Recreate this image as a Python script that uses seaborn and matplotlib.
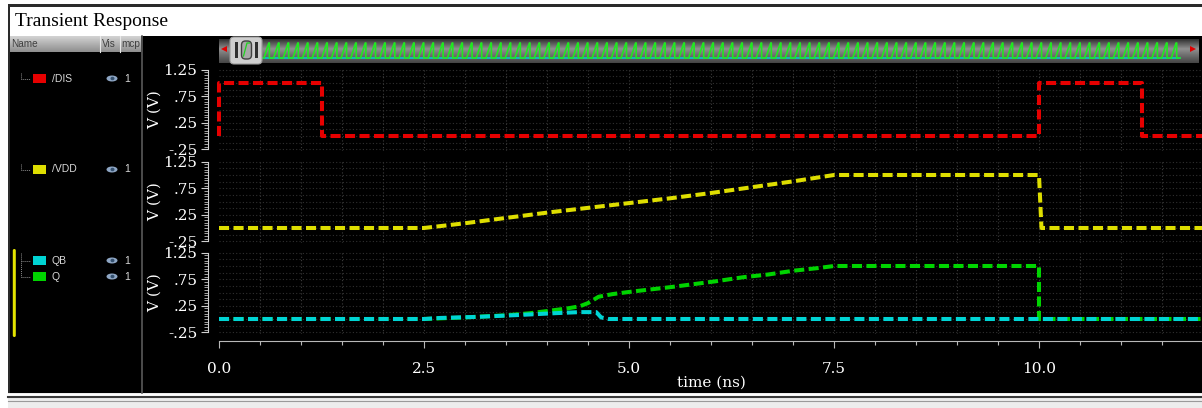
import numpy as np
import pandas as pd
import matplotlib
matplotlib.use("Agg")
import matplotlib.pyplot as plt
import seaborn as sns
from matplotlib.patches import Rectangle, FancyBboxPatch, Ellipse, Polygon
from matplotlib.ticker import MultipleLocator, FixedLocator, FixedFormatter

# waveform data (time in ns, volts)
dis_t = [0, 0, 1.25, 1.25, 10.0, 10.0, 11.25, 11.25, 12.0]
dis_v = [0, 1, 1, 0, 0, 1, 1, 0, 0]

vdd_t = [0, 2.5, 3.0, 3.5, 4.0, 4.5, 5.0, 5.5, 6.0, 6.5, 7.0, 7.5, 10.0, 10.03, 12.0]
vdd_v = [0, 0, 0.09, 0.19, 0.29, 0.38, 0.47, 0.56, 0.66, 0.77, 0.88, 1.0, 1.0, 0, 0]

q_t = [0, 2.5, 3.0, 3.5, 3.8, 4.05, 4.25, 4.4, 4.5, 4.63, 4.8, 5.05, 5.5, 6.05, 6.4, 6.7,
       7.0, 7.3, 7.5, 10.0, 10.0, 12.0]
q_v = [0, 0, 0.03, 0.07, 0.11, 0.16, 0.2, 0.24, 0.3, 0.42, 0.47, 0.52, 0.6, 0.71, 0.79, 0.84,
       0.91, 0.96, 1.0, 1.0, 0, 0]

qb_t = [0, 2.5, 2.7, 3.15, 3.65, 4.1, 4.4, 4.6, 4.66, 4.75, 12.0]
qb_v = [0, 0, 0.02, 0.04, 0.075, 0.11, 0.13, 0.13, 0.03, 0, 0]

ytick_vals = [-0.25, 0.25, 0.75, 1.25]
ytick_text = ["-.25", ".25", ".75", "1.25"]
xtick_vals = [0.0, 2.5, 5.0, 7.5, 10.0]
xtick_text = ["0.0", "2.5", "5.0", "7.5", "10.0"]

legend_names = ["/DIS", "/VDD", "QB", "Q"]
legend_colors = ["#e60000", "#dede00", "#00d4d4", "#00d400"]
legend_rows = [78.5, 169.5, 260.5, 276.5]

# overview strip in the scrollbar: one cycle of the thumbnail, repeated
overview_cycle_x = [0, 0.1, 0.6, 0.66, 0.66, 1.0]
overview_cycle_y = [0, 0, 1, 1, 0, 0]
overview_cycles = 95

W, H = 1202, 408


def rect(x0, y0, x1, y1):
    return [x0 / W, 1 - y1 / H, (x1 - x0) / W, (y1 - y0) / H]


fig = plt.figure(figsize=(W / 100, H / 100), dpi=100, facecolor="white")

# background / window chrome, drawn in pixel coords
bg = fig.add_axes([0, 0, 1, 1])
bg.axis("off")
bg.add_patch(Rectangle((8, 4), W - 8, 392, fc="#2a2a2a", ec="none"))
bg.add_patch(Rectangle((10, 7), W - 10, 29, fc="white", ec="none"))
bg.text(15, 22, "Transient Response", family="Liberation Serif", size=14,
        va="center", ha="left", color="black")
bg.add_patch(Rectangle((10, 36), W - 10, 357, fc="black", ec="none"))
bg.plot([141.5, 141.5], [36, 393], color="#5a5a5a", lw=1.2)

# bottom status band
bg.add_patch(Rectangle((8, 393), W - 8, 15, fc="#ededed", ec="none"))
bg.plot([8, W], [394.5, 394.5], color="white", lw=2)
bg.plot([8, W], [397, 397], color="#3a3a3a", lw=1.5)
bg.plot([8, W], [400.8, 400.8], color="#9a9a9a", lw=0.8)

# header of the signal list
head = np.linspace(0.82, 0.56, 16).reshape(-1, 1)
bg.imshow(head, extent=(10, 141, 52, 36), aspect="auto", cmap="gray", vmin=0, vmax=1,
          zorder=2)
for xs in (100, 119.5):
    bg.plot([xs, xs], [36, 52], color="#e8e8e8", lw=0.8, zorder=3)
for label, xs in (("Name", 11), ("Vis", 101.5), ("mcp", 121)):
    bg.text(xs, 44, label, family="Liberation Sans", size=7.2, color="#404040",
            va="center", ha="left", zorder=4)

# signal list entries
for name, col, yy in zip(legend_names, legend_colors, legend_rows):
    bg.add_patch(Rectangle((32.5, yy - 4.5), 13.5, 9, fc=col, ec="none"))
    bg.text(52, yy, name, family="Liberation Sans", size=7.5, color="#d8d8d8",
            va="center", ha="left")
    bg.add_patch(Ellipse((112, yy), 11, 6, fc="#8ea6c4", ec="none"))
    bg.add_patch(Ellipse((112.5, yy), 4, 3.5, fc="#34506e", ec="none"))
    bg.text(124, yy, "1", family="Liberation Sans", size=7.5, color="#d8d8d8",
            va="center", ha="left")
for y0, y1 in ((73, 79), (169 - 5.5, 169.5)):
    bg.plot([20.5, 20.5, 30], [y0, y1, y1], color="#8a8a8a", lw=0.7, ls=(0, (1, 1)))
bg.plot([20.5, 20.5], [253, 276.5], color="#8a8a8a", lw=0.7, ls=(0, (1, 1)))
for yy in (260.5, 276.5):
    bg.plot([20.5, 30], [yy, yy], color="#8a8a8a", lw=0.7, ls=(0, (1, 1)))
bg.add_patch(FancyBboxPatch((12.8, 249), 3, 88, boxstyle="round,pad=0,rounding_size=1.5",
                            fc="#e4e400", ec="none"))

# scrollbar with waveform thumbnail
bar = np.concatenate([np.linspace(0.2, 0.55, 10), np.linspace(0.55, 0.28, 14)]).reshape(-1, 1)
bg.imshow(bar, extent=(219, 1199, 63, 39), aspect="auto", cmap="gray", vmin=0, vmax=1,
          zorder=2)
period = (1180 - 263) / overview_cycles
ov_x = np.concatenate([263 + period * (k + np.array(overview_cycle_x)) for k in range(overview_cycles)])
ov_y = np.concatenate([np.array(overview_cycle_y) for k in range(overview_cycles)])
bg.plot([263, 1180], [58, 58], color="#00d0d8", lw=1.1, zorder=3)
bg.plot(ov_x, 58 - 15 * ov_y, color="#22e622", lw=1.2, zorder=3)
bg.add_patch(Polygon([[221, 49], [227, 46], [227, 52]], closed=True, fc="#e00000",
                     ec="none", zorder=3))
bg.add_patch(Polygon([[1196, 49], [1190, 46], [1190, 52]], closed=True, fc="#e00000",
                     ec="none", zorder=3))
bg.add_patch(FancyBboxPatch((230, 37), 32, 27, boxstyle="round,pad=0,rounding_size=4",
                            fc="#cfcfcf", ec="#9a9a9a", lw=0.8, zorder=4))
for xs in (236.5, 256.5):
    bg.add_patch(Rectangle((xs - 1.2, 42), 2.4, 16, fc="#303030", ec="none", zorder=5))
bg.add_patch(FancyBboxPatch((241.5, 41), 10, 18, boxstyle="round,pad=0,rounding_size=4",
                            fc="#a8a8a8", ec="#404040", lw=1, zorder=5))
bg.plot([243.5, 247, 249.5], [56, 43, 43], color="#1ed41e", lw=0.9, zorder=6)

bg.set_xlim(0, W)
bg.set_ylim(H, 0)

# the three waveform strips
signals = [
    [("DIS", dis_t, dis_v, "#e60000")],
    [("VDD", vdd_t, vdd_v, "#dede00")],
    [("Q", q_t, q_v, "#00d400"), ("QB", qb_t, qb_v, "#00d4d4")],
]
zero_rows = [136, 228, 319]
px_per_volt = 53

axes = []
for k, (group, z) in enumerate(zip(signals, zero_rows)):
    top = z - px_per_volt * 1.29
    bot = z + px_per_volt * 0.29
    ax = fig.add_axes(rect(219, top, 1203, bot), facecolor="none",
                      sharex=axes[0] if axes else None)
    ax.set_xlim(0, 12)
    ax.set_ylim(-0.29, 1.29)

    for xv in np.arange(0.5, 12, 0.5):
        ax.axvline(xv, color="#3c3c3c", lw=0.8, ls=(0, (1, 2)), zorder=0)
    for yv in np.arange(-0.25, 1.26, 0.125):
        ax.axhline(yv, color="#303030", lw=0.8, ls=(0, (1, 2)), zorder=0)

    for name, t, v, col in group:
        df = pd.DataFrame({"t": t, "v": v})
        sns.lineplot(data=df, x="t", y="v", ax=ax, color=col, estimator=None,
                     sort=False, lw=2.9, linestyle=(0, (2.5, 1.1)))
    for line in ax.lines:
        if line.get_lw() > 2:
            line.set_clip_on(False)

    for s in ("top", "right", "bottom"):
        ax.spines[s].set_visible(False)
    ax.spines["left"].set_position(("outward", 8))
    ax.spines["left"].set_color("#d0d0d0")
    ax.spines["left"].set_bounds(-0.25, 1.25)
    ax.yaxis.set_major_locator(FixedLocator(ytick_vals))
    ax.yaxis.set_major_formatter(FixedFormatter(ytick_text))
    ax.yaxis.set_minor_locator(MultipleLocator(0.05))
    ax.tick_params(axis="y", which="major", length=5, width=0.8, color="#d0d0d0",
                   labelcolor="white", labelsize=11, pad=2.5)
    ax.tick_params(axis="y", which="minor", length=3, width=0.6, color="#c0c0c0")
    for lab in ax.get_yticklabels():
        lab.set_family("DejaVu Serif")
    ax.set_ylabel("V (V)", family="DejaVu Serif", size=11, color="white", labelpad=1)
    ax.set_xlabel("")
    if k < 2:
        ax.tick_params(axis="x", which="both", bottom=False, labelbottom=False)
    axes.append(ax)

ax3 = axes[-1]
ax3.spines["bottom"].set_visible(True)
ax3.spines["bottom"].set_position(("outward", 4.6))
ax3.spines["bottom"].set_color("#b8b8b8")
ax3.spines["bottom"].set_bounds(0, 12)
ax3.xaxis.set_major_locator(FixedLocator(xtick_vals))
ax3.xaxis.set_major_formatter(FixedFormatter(xtick_text))
ax3.xaxis.set_minor_locator(MultipleLocator(0.5))
ax3.tick_params(axis="x", which="major", length=5, width=0.8, color="#b8b8b8",
                labelcolor="white", labelsize=11, pad=10)
ax3.tick_params(axis="x", which="minor", length=3, width=0.8, color="#b8b8b8")
for lab in ax3.get_xticklabels():
    lab.set_family("DejaVu Serif")
ax3.set_xlabel("time (ns)", family="DejaVu Serif", size=11, color="white", labelpad=0)

fig.savefig("out.png", dpi=100, facecolor="white")
